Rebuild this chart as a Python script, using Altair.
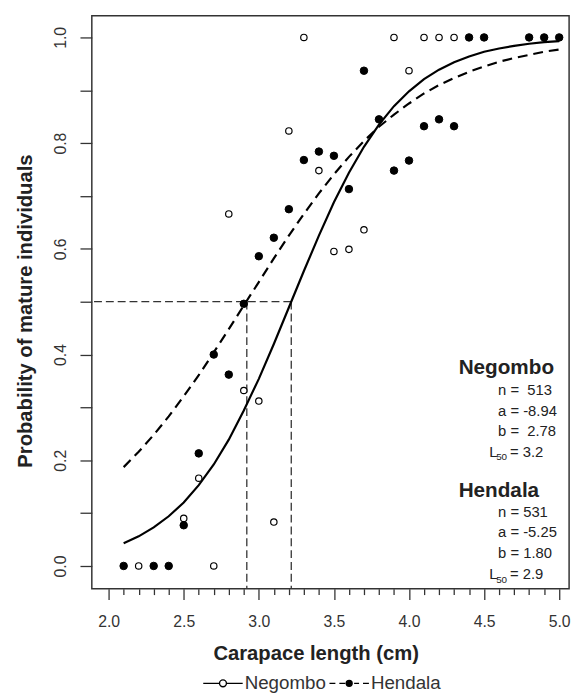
import altair as alt
import pandas as pd

# ---------------- data ----------------
neg_x = [2.2, 2.5, 2.6, 2.7, 2.8, 2.9, 3.0, 3.1, 3.2, 3.3, 3.4, 3.5, 3.6, 3.7, 3.9, 4.0, 4.1, 4.2, 4.3]
neg_p = [0.0, 0.090, 0.166, 0.0, 0.666, 0.332, 0.312, 0.083, 0.823, 1.0, 0.748, 0.595, 0.599, 0.636, 1.0, 0.937, 1.0, 1.0, 1.0]

hen_x = [2.1, 2.3, 2.4, 2.5, 2.6, 2.7, 2.8, 2.9, 3.0, 3.1, 3.2, 3.3, 3.4, 3.5, 3.6, 3.7, 3.8, 3.9,
         4.0, 4.1, 4.2, 4.3, 4.4, 4.5, 4.8, 4.9, 5.0]
hen_p = [0.0, 0.0, 0.0, 0.077, 0.213, 0.400, 0.362, 0.496, 0.586, 0.621, 0.675, 0.768, 0.784, 0.776,
         0.713, 0.937, 0.845, 0.748, 0.767, 0.832, 0.845, 0.832, 1.0, 1.0, 1.0, 1.0, 1.0]

curve_x = [2.1, 2.2, 2.3, 2.4, 2.5, 2.6, 2.7, 2.8, 2.9, 3.0, 3.1, 3.2, 3.3, 3.4, 3.5, 3.6, 3.7, 3.8, 3.9,
           4.0, 4.1, 4.2, 4.3, 4.4, 4.5, 4.6, 4.7, 4.8, 4.9, 5.0]
neg_fit = [0.043, 0.056, 0.073, 0.094, 0.120, 0.153, 0.192, 0.239, 0.294, 0.354, 0.420, 0.489, 0.558,
           0.625, 0.688, 0.744, 0.793, 0.835, 0.870, 0.898, 0.921, 0.939, 0.953, 0.964, 0.973, 0.979,
           0.984, 0.988, 0.991, 0.993]
hen_fit = [0.187, 0.216, 0.248, 0.283, 0.321, 0.361, 0.404, 0.448, 0.493, 0.537, 0.582, 0.625, 0.666,
           0.705, 0.741, 0.774, 0.804, 0.831, 0.854, 0.875, 0.894, 0.910, 0.923, 0.935, 0.945, 0.954,
           0.961, 0.967, 0.973, 0.977]

l50_x = [2.92, 3.216]          # L50 markers (Hendala, Negombo)
half_p = [0.5, 0.5]

series = ["Negombo", "Hendala"]
x_ticks = [2.0, 2.1, 2.2, 2.3, 2.4, 2.5, 2.6, 2.7, 2.8, 2.9, 3.0, 3.1, 3.2, 3.3, 3.4, 3.5, 3.6, 3.7, 3.8,
           3.9, 4.0, 4.1, 4.2, 4.3, 4.4, 4.5, 4.6, 4.7, 4.8, 4.9, 5.0]
y_ticks = [0.0, 0.1, 0.2, 0.3, 0.4, 0.5, 0.6, 0.7, 0.8, 0.9, 1.0]

# ---------------- layout ----------------
W, H = 484, 581
FONT = "Liberation Sans"
INK = "#222222"

xscale = alt.Scale(domain=[1.888, 5.066], nice=False, zero=False)
yscale = alt.Scale(domain=[-0.043, 1.041], nice=False, zero=False)

xaxis = alt.Axis(
    values=x_ticks,
    labelExpr="abs(datum.value*2 - round(datum.value*2)) < 0.01 ? format(datum.value, '.1f') : ''",
    tickSize={"condition": {"test": "abs(datum.value*2 - round(datum.value*2)) < 0.01", "value": 11}, "value": 6},
    tickColor="#333", tickWidth=1.3, domain=False, grid=False,
    labelFont=FONT, labelFontSize=16, labelColor="#333", labelPadding=27,
    labelBaseline="alphabetic", labelAlign="center", labelFlush=False, labelOverlap=False,
    title="Carapace length (cm)", titleFont=FONT, titleFontSize=20.5, titleFontWeight="bold",
    titleColor=INK, titleX=227, titleY=72, titleAlign="center", titleBaseline="alphabetic",
)
yaxis = alt.Axis(
    values=y_ticks,
    labelExpr="abs(datum.value*5 - round(datum.value*5)) < 0.01 ? format(datum.value, '.1f') : ''",
    tickSize=12, tickColor="#333", tickWidth=1.3, domain=False, grid=False,
    labelFont=FONT, labelFontSize=16, labelColor="#333", labelPadding=15, labelAngle=270,
    labelAlign="center", labelBaseline="alphabetic", labelFlush=False, labelOverlap=False,
    title="Probability of mature individuals", titleFont=FONT, titleFontSize=20.5,
    titleFontWeight="bold", titleColor=INK, titleAngle=270, titleX=-61, titleY=299,
    titleAlign="center", titleBaseline="alphabetic",
)

def X(field="x"):
    return alt.X(f"{field}:Q", scale=xscale, axis=xaxis)

def Y(field="p"):
    return alt.Y(f"{field}:Q", scale=yscale, axis=yaxis)

neg_df = pd.DataFrame({"x": neg_x, "p": neg_p})
hen_df = pd.DataFrame({"x": hen_x, "p": hen_p})
fit_neg_df = pd.DataFrame({"x": curve_x, "p": neg_fit})
fit_hen_df = pd.DataFrame({"x": curve_x, "p": hen_fit})
l50_df = pd.DataFrame({"x": l50_x, "p": half_p})

dash_style = dict(color="#333", strokeWidth=1.3, strokeDash=[8, 4])

h_rule = alt.Chart(l50_df.iloc[[1]]).mark_rule(**dash_style).encode(
    x=X(), x2=alt.value(0), y=Y()
)
v_rule = alt.Chart(l50_df).mark_rule(**dash_style).encode(
    x=X(), y=Y(), y2=alt.value(H)
)

neg_line = alt.Chart(fit_neg_df).mark_line(color="black", strokeWidth=2.2).encode(x=X(), y=Y())
hen_line = alt.Chart(fit_hen_df).mark_line(color="black", strokeWidth=2.2, strokeDash=[10, 6]).encode(
    x=X(), y=Y()
)

neg_pts = alt.Chart(neg_df).mark_point(
    shape="circle", filled=True, fill="white", stroke="black", strokeWidth=1.2, size=42, opacity=1
).encode(x=X(), y=Y())
hen_pts = alt.Chart(hen_df).mark_point(
    shape="circle", filled=True, fill="black", stroke="black", strokeWidth=1, size=58, opacity=1
).encode(x=X(), y=Y())

# ---------------- annotations ----------------
def note(text, px, py, size=15, weight="normal"):
    return alt.Chart(alt.Data(values=[{}])).mark_text(
        text=text, align="left", baseline="alphabetic", font=FONT, fontSize=size,
        fontWeight=weight, color=INK
    ).encode(x=alt.value(px), y=alt.value(py))

notes = [
    note("Negombo", 372, 363, 21, "bold"),
    note("n =\u00a0 513", 412, 385),
    note("a = -8.94", 412, 406),
    note("b =\u00a0 2.78", 412, 426),
    note("L", 403, 447),
    note("50", 410, 451, 10),
    note("= 3.2", 424, 447),
    note("Hendala", 372, 488, 21, "bold"),
    note("n = 531", 412, 508),
    note("a = -5.25", 412, 529),
    note("b = 1.80", 412, 550),
    note("L", 403, 571),
    note("50", 410, 575, 10),
    note("= 2.9", 424, 571),
]

# ---------------- legend ----------------
neg_sym = ("M-1,0L-0.175,0M0.175,0L1,0"
           "M0.175,0A0.175,0.175,0,1,1,-0.175,0A0.175,0.175,0,1,1,0.175,0Z")
hen_sym = ("M-1,0L-0.7,0M-0.5,0L-0.2,0M0.25,0L0.5,0M0.7,0L1,0"
           "M0.15,0A0.15,0.15,0,1,1,-0.15,0A0.15,0.15,0,1,1,0.15,0Z")

leg = alt.Legend(
    orient="none", legendX=112, legendY=656, direction="horizontal", title=None,
    labelFont=FONT, labelFontSize=19, labelColor="#333", labelOffset=1,
    symbolSize=1600, symbolStrokeColor="black", symbolStrokeWidth=1.4, symbolOpacity=1,
    columnPadding=0, padding=0, rowPadding=0,
)
legend_layer = alt.Chart(pd.DataFrame({"series": series})).mark_point(
    filled=True, opacity=0
).encode(
    x=alt.value(0), y=alt.value(0),
    shape=alt.Shape("series:N", scale=alt.Scale(domain=series, range=[neg_sym, hen_sym]), legend=leg),
    fill=alt.Fill("series:N", scale=alt.Scale(domain=series, range=["white", "black"]), legend=leg),
    stroke=alt.Stroke("series:N", scale=alt.Scale(domain=series, range=["black", "black"]), legend=leg),
)

chart = alt.layer(
    h_rule, v_rule, neg_line, hen_line, neg_pts, hen_pts, *notes, legend_layer
).properties(
    width=W, height=H, autosize="none",
    padding={"left": 85, "top": 3, "right": 7, "bottom": 106},
).configure_view(stroke="#333", strokeWidth=1.5)

chart.save("out.html", embed_options={"renderer": "svg", "actions": False})
